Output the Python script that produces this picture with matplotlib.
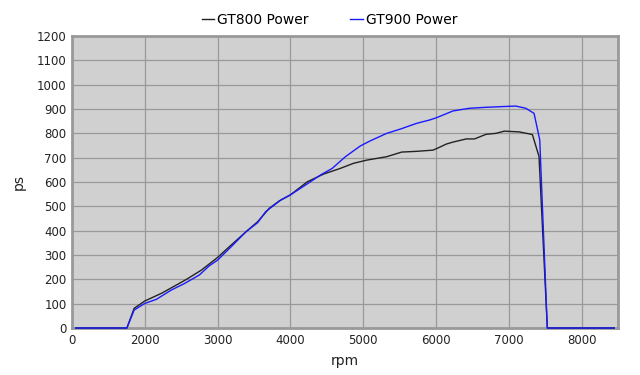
import matplotlib
matplotlib.use('Agg')
import matplotlib.pyplot as plt

# GT800 power curve (rpm, ps)
gt800_rpm = [1050, 1754, 1854, 2000, 2232, 2573, 2778, 3000, 3187, 3392, 3551, 3710, 3846,
             4000, 4233, 4460, 4687, 4869, 5051, 5324, 5529, 5734, 5960, 6029, 6143, 6234,
             6416, 6529, 6689, 6825, 6938, 7143, 7325, 7416, 7530, 8450]
gt800_ps = [0, 0, 81, 111, 143, 200, 238, 290, 341, 396, 437, 492, 522,
            547, 601, 633, 656, 677, 690, 704, 723, 726, 731, 740, 756, 764,
            777, 777, 796, 800, 809, 806, 795, 705, 0, 0]

# GT900 power curve (rpm, ps)
gt900_rpm = [1050, 1754, 1854, 2000, 2160, 2364, 2546, 2750, 2887, 3000, 3187, 3392, 3551,
             3660, 3869, 4000, 4210, 4415, 4575, 4756, 4960, 5097, 5324, 5506, 5734, 5915,
             6006, 6234, 6460, 6689, 6916, 7098, 7235, 7348, 7426, 7530, 8450]
gt900_ps = [0, 0, 74, 101, 118, 156, 183, 218, 256, 279, 334, 396, 433,
            478, 526, 547, 588, 629, 656, 704, 748, 769, 800, 817, 841, 855,
            864, 892, 903, 907, 910, 912, 903, 882, 773, 0, 0]

x_ticks = [1000, 2000, 3000, 4000, 5000, 6000, 7000, 8000]
x_labels = ['0', '2000', '3000', '4000', '5000', '6000', '7000', '8000']
y_ticks = list(range(0, 1300, 100))

fig = plt.figure(figsize=(6.4, 3.75), dpi=100)
ax = fig.add_axes([0.1125, 0.1253, 0.853, 0.7787])
ax.set_facecolor('#d0d0d0')

ax.plot(gt800_rpm, gt800_ps, color='#222222', linewidth=1.0, label='GT800 Power',
        zorder=4, clip_on=False)
ax.plot(gt900_rpm, gt900_ps, color='#1a1aff', linewidth=1.0, label='GT900 Power',
        zorder=5, clip_on=False)

ax.set_xlim(1000, 8500)
ax.set_ylim(0, 1200)
ax.set_xticks(x_ticks)
ax.set_xticklabels(x_labels)
ax.set_yticks(y_ticks)
ax.tick_params(length=0, labelsize=8.5, colors='#222222', pad=4)
ax.grid(True, color='#999999', linewidth=0.9)
ax.set_axisbelow(True)
for s in ax.spines.values():
    s.set_color('#999999')
    s.set_linewidth(2.0)
    s.set_zorder(2)

ax.set_xlabel('rpm', fontsize=10, color='#222222', labelpad=5)
ax.set_ylabel('ps', fontsize=10, color='#222222', labelpad=8)

fig.legend(loc='upper center', bbox_to_anchor=(0.515, 1.0), ncol=2, frameon=False,
           fontsize=10, handlelength=0.9, columnspacing=3.0, handletextpad=0.2)

plt.savefig('out.png', dpi=100)
